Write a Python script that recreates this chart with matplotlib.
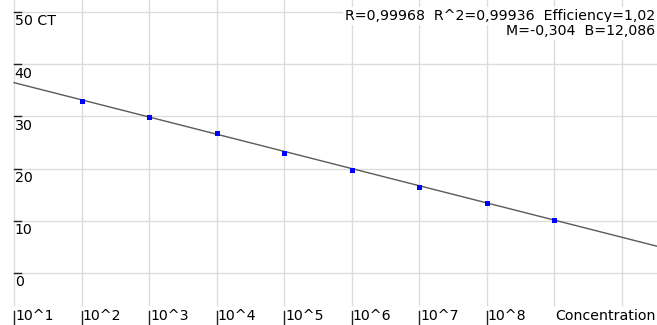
import numpy as np
import matplotlib
matplotlib.use("Agg")
import matplotlib.pyplot as plt

# standard curve data
conc = [1e2, 1e3, 1e4, 1e5, 1e6, 1e7, 1e8, 1e9]
ct = [32.9, 29.9, 26.8, 23.0, 19.8, 16.5, 13.35, 10.1]
M = -0.304
B = 12.086
y_ticks = [0, 10, 20, 30, 40, 50]
y_labels = ['0', '10', '20', '30', '40', '50 CT']
x_decades = [1, 2, 3, 4, 5, 6, 7, 8, 9, 10]
x_labels = ['10^1', '10^2', '10^3', '10^4', '10^5', '10^6', '10^7', '10^8', 'Concentration']
stats1 = 'R=0,99968  R^2=0,99936  Efficiency=1,02'
stats2 = 'M=-0,304  B=12,086'

W, H = 657, 325
px_dec = 67.5      # pixels per decade
x0_px = 14         # pixel of 10^1
y0_px = 273        # pixel of CT 0
px_ct = 5.22       # pixels per CT unit

lo = 1 - x0_px / px_dec
hi = 1 + (W - x0_px) / px_dec
ybot = -(H - y0_px) / px_ct
ytop = y0_px / px_ct

plt.rcParams['font.family'] = 'DejaVu Sans'
fig = plt.figure(figsize=(W / 100, H / 100), dpi=100)
ax = fig.add_axes([0, 0, 1, 1])
ax.set_xscale('log')
ax.set_xlim(10 ** lo, 10 ** hi)
ax.set_ylim(ybot, ytop)
ax.axis('off')

grid = '#dcdcdc'
gbot = -(305 - y0_px) / px_ct
for d in x_decades:
    ax.plot([10 ** d, 10 ** d], [gbot, ytop], color=grid, lw=1.0, zorder=1)
for v in y_ticks:
    ax.plot([10 ** 1, 10 ** hi], [v, v], color=grid, lw=1.0, zorder=1)

# fitted line: log(c) = M*CT + B
xs = np.array([1, hi])
ax.plot(10 ** xs, (xs - B) / M, color='#5a5a5a', lw=1.0, zorder=2)
ax.plot(conc, ct, 's', color='#0000ff', ms=3.6, mew=0, zorder=3)

fs = 10.2
tick_w = 7 / px_dec
for v, lab in zip(y_ticks, y_labels):
    ax.text(10 ** 1.01, v - 0.45, lab, fontsize=fs, ha='left', va='top', zorder=4)
    ax.plot([10 ** 1, 10 ** (1 + tick_w)], [v, v], color='#222222', lw=1.0, zorder=4)

ylab = -(316 - y0_px) / px_ct
for d, lab in zip(x_decades, x_labels):
    ax.text(10 ** (d + 0.02), ylab, lab, fontsize=fs, ha='left', va='center', zorder=4)
    if lab != 'Concentration':
        ax.plot([10 ** d, 10 ** d], [-(311 - y0_px) / px_ct, ybot], color='#222222', lw=1.0, zorder=4)

bbox = dict(facecolor='white', edgecolor='none', pad=1.5)
fig.text(655 / W, 1 - 16 / H, stats1, fontsize=fs, ha='right', va='center', bbox=bbox, zorder=5)
fig.text(655 / W, 1 - 31 / H, stats2, fontsize=fs, ha='right', va='center', bbox=bbox, zorder=5)

fig.savefig('out.png', dpi=100)
